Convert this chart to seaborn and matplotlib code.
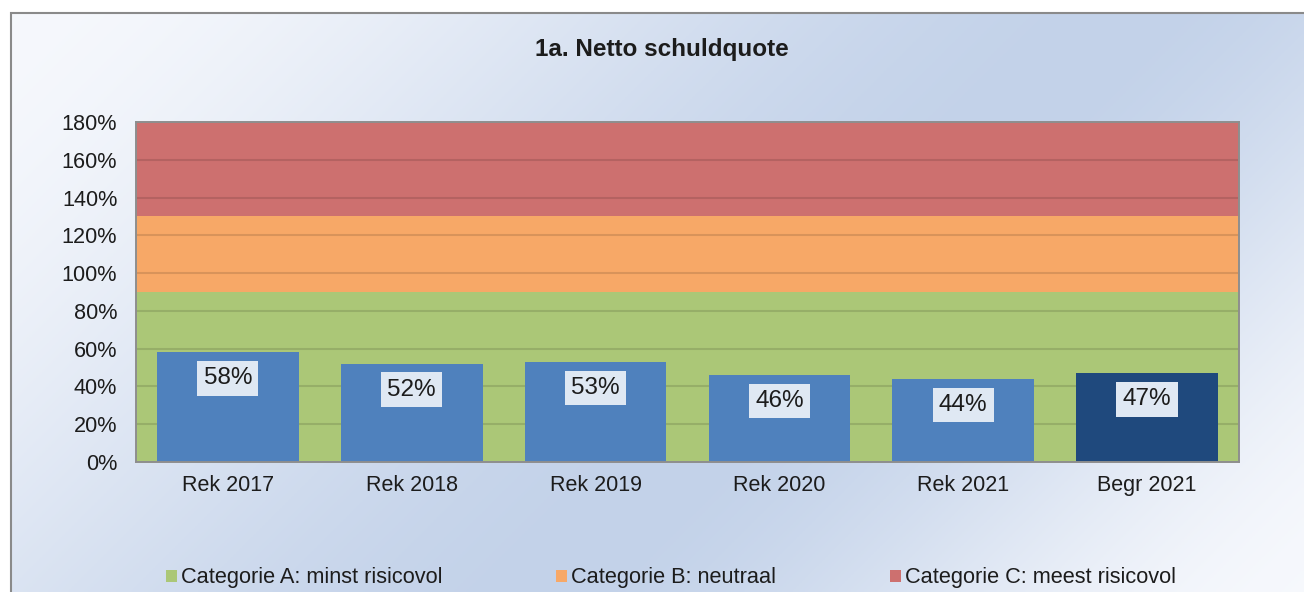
import numpy as np
import pandas as pd
import matplotlib
matplotlib.use("Agg")
import matplotlib.pyplot as plt
from matplotlib.patches import Rectangle, Patch
import seaborn as sns

# ---- data -------------------------------------------------------------
categories = ["Rek 2017", "Rek 2018", "Rek 2019", "Rek 2020", "Rek 2021", "Begr 2021"]
values = [58, 52, 53, 46, 44, 47]
bar_colors = ["#4F81BD", "#4F81BD", "#4F81BD", "#4F81BD", "#4F81BD", "#1F497D"]

band_labels = ["Categorie A: minst risicovol", "Categorie B: neutraal", "Categorie C: meest risicovol"]
band_bounds = [0, 90, 130, 180]
band_colors = ["#ABC777", "#F7A867", "#CD706F"]

y_ticks = [0, 20, 40, 60, 80, 100, 120, 140, 160, 180]
title = "1a. Netto schuldquote"

# ---- style ------------------------------------------------------------
sns.set_theme(style="white")
plt.rcParams["font.family"] = ["Liberation Sans", "DejaVu Sans"]
TXT = "#1C1C1C"

W, H = 1304, 592
fig = plt.figure(figsize=(W / 100, H / 100), dpi=100)
fig.patch.set_facecolor("white")

# ---- chart-area gradient background ------------------------------------
bg = fig.add_axes([10 / W, 0, 1 - 10 / W, 1 - 13 / H], zorder=-5)
gx = np.linspace(10, W, 400)
gy = np.linspace(13, H, 200)
XX, YY = np.meshgrid(gx, gy)
s = XX + YY
peak, end = 1150.0, 1900.0
w = np.where(s < peak, s / peak, (end - s) / (end - peak))
w = np.clip(w, 0, 1)
w = w * w * (3 - 2 * w)
c_light = np.array([0.965, 0.973, 0.990])
c_blue = np.array([0.765, 0.824, 0.915])
img = c_light + (c_blue - c_light) * w[..., None]
bg.imshow(img, aspect="auto", extent=[0, 1, 0, 1], origin="upper")
bg.set_axis_off()
fig.add_artist(Rectangle((10.5 / W, -0.05), 1.1, 1 - 13 / H + 0.05,
                         transform=fig.transFigure, fill=False,
                         edgecolor="#8A8A8A", linewidth=1.5, zorder=-4))

# ---- plot area ---------------------------------------------------------
ax = fig.add_axes([136 / W, (H - 462) / H, (1239 - 136) / W, 340 / H])

for lo, hi, col, lab in zip(band_bounds[:-1], band_bounds[1:], band_colors, band_labels):
    ax.axhspan(lo, hi, color=col, zorder=0, label=lab, linewidth=0)
for yt in y_ticks[1:-1]:
    ax.axhline(yt, color="black", alpha=0.12, linewidth=1.5, zorder=1)

df = pd.DataFrame({"cat": categories, "val": values})
sns.barplot(data=df, x="cat", y="val", hue="cat", order=categories,
            palette=bar_colors, width=0.77, saturation=1, legend=False,
            ax=ax, zorder=2, edgecolor="none", linewidth=0)

for i, v in enumerate(values):
    ax.annotate(f"{v}%", xy=(i, v), xytext=(0, -26), textcoords="offset pixels",
                ha="center", va="center", fontsize=17.5, color=TXT, zorder=4,
                bbox=dict(boxstyle="square,pad=0.26", facecolor="#DFE8F3",
                          edgecolor="none"))

ax.set_xlim(-0.5, len(categories) - 0.5)
ax.set_ylim(band_bounds[0], band_bounds[-1])
ax.set_yticks(y_ticks)
ax.set_yticklabels([f"{t}%" for t in y_ticks])
ax.set_xlabel("")
ax.set_ylabel("")
ax.tick_params(axis="y", length=0, pad=13.5, labelsize=15.6, labelcolor=TXT)
ax.tick_params(axis="x", length=0, pad=9.5, labelsize=15.5, labelcolor=TXT)
for sp in ax.spines.values():
    sp.set_visible(True)
    sp.set_color("#8E8E8E")
    sp.set_linewidth(1.4)

# ---- title & legend ----------------------------------------------------
fig.text(662 / W, 1 - 56 / H, title, ha="center", va="baseline",
         fontsize=17.5, fontweight="bold", color=TXT)

handles = [Patch(facecolor=c, edgecolor="none", label=l)
           for c, l in zip(band_colors, band_labels)]
fig.legend(handles=handles, loc="center left", ncol=3,
           bbox_to_anchor=(166 / W, 1 - 578 / H), frameon=False,
           fontsize=15.7, handlelength=0.5, handleheight=0.5,
           handletextpad=0.2, columnspacing=5.2, borderpad=0,
           borderaxespad=0, labelcolor=TXT)

fig.savefig("out.png", dpi=100)
